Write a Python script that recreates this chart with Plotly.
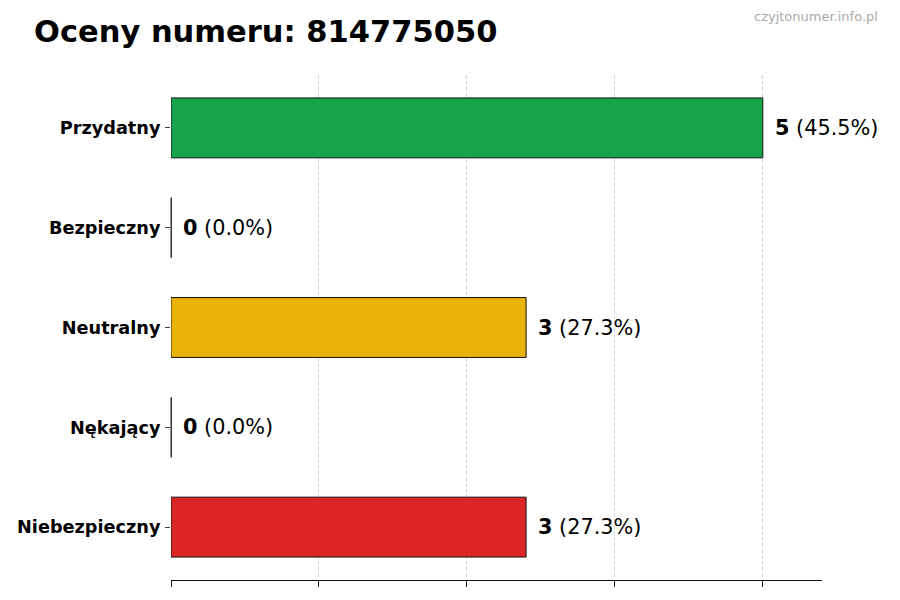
import plotly.graph_objects as go

categories = ["Niebezpieczny", "Nękający", "Neutralny", "Bezpieczny", "Przydatny"]
values = [3, 0, 3, 0, 5]
colors = ["#dc2626", "#9ca3af", "#eab308", "#16a34a", "#16a34a"]
title_text = "Oceny numeru: 814775050"
watermark = "czyjtonumer.info.pl"
x_ticks = [0, 1.25, 2.5, 3.75, 5]

total = sum(values)
pcts = [v / total * 100 for v in values]

FONT = "DejaVu Sans"

fig = go.Figure()
fig.add_trace(go.Bar(
    x=values, y=categories, orientation="h", width=0.6,
    marker=dict(color=colors, line=dict(color="#111111", width=1)),
    hoverinfo="skip", showlegend=False,
))
# zero-valued bars render as their edge only
zero_cats = [c for c, v in zip(categories, values) if v == 0]
zero_vals = [v for v in values if v == 0]
fig.add_trace(go.Scatter(
    x=zero_vals, y=zero_cats, mode="markers",
    marker=dict(symbol="line-ns", size=43, line=dict(color="#222222", width=1)),
    hoverinfo="skip", showlegend=False, cliponaxis=False,
))

for c, v, p in zip(categories, values, pcts):
    fig.add_annotation(
        x=v, y=c, xref="x", yref="y",
        text=f"<b>{v}</b> ({p:.1f}%)",
        showarrow=False, xanchor="left", yanchor="middle", xshift=10,
        font=dict(family=FONT, size=20.8, color="#000000"),
    )

fig.add_annotation(
    x=1.089, y=1.115, xref="paper", yref="paper",
    text=watermark, showarrow=False, xanchor="right", yanchor="middle",
    font=dict(family=FONT, size=13, color="#aaaaaa"),
)

fig.update_layout(
    width=900, height=600,
    margin=dict(l=163, r=86, t=67, b=28),
    paper_bgcolor="white", plot_bgcolor="white",
    title=dict(text=f"<b>{title_text}</b>", x=26 / 900, xanchor="left", xref="container",
               y=1 - 23 / 600, yanchor="middle", yref="container",
               font=dict(family=FONT, size=30.5, color="#000000")),
    xaxis=dict(range=[0, 5.5], tickvals=x_ticks, showticklabels=False, automargin=False,
               ticks="outside", ticklen=6, tickcolor="#222222",
               showgrid=True, gridcolor="#d6d6d6", griddash="4px,2px", gridwidth=1,
               showline=True, linecolor="#111111", linewidth=1.2, zeroline=False),
    yaxis=dict(range=[-0.53, 4.53], categoryorder="array", categoryarray=categories,
               automargin=False,
               ticks="outside", ticklen=5, tickcolor="#444444", ticklabelstandoff=1,
               tickfont=dict(family=FONT, size=17.7, color="#000000", weight="bold"),
               showgrid=False, showline=False, zeroline=False),
)

fig.write_html("out.html")
